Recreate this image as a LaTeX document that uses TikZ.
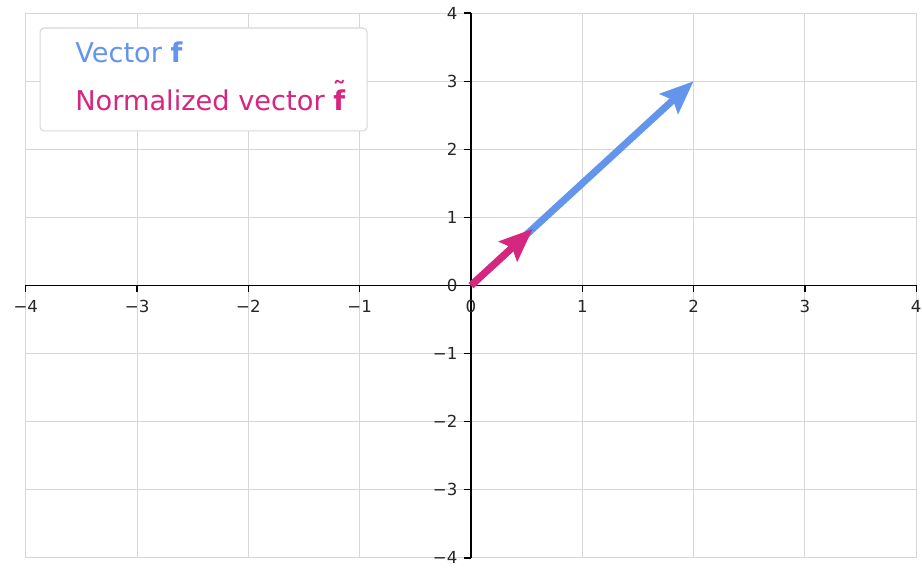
\documentclass[tikz,border=0pt]{standalone}
\usepackage{fontspec}
\setmainfont{DejaVu Sans}
\usetikzlibrary{arrows.meta}
\definecolor{vecblue}{RGB}{100,149,237}
\definecolor{vecpink}{RGB}{214,38,125}
\definecolor{gridgray}{RGB}{215,215,215}
\newcommand{\ftilde}{\ooalign{\textbf{f}\cr\hidewidth\raisebox{0.3em}{\textbf{\char"02DC}}\hidewidth\cr}}
\tikzset{
  gridline/.style={gridgray, line width=0.8pt},
  axisline/.style={black, line width=1.1pt},
  tickmark/.style={black, line width=1pt},
  ticklabel/.style={inner sep=0pt, font=\fontsize{12.5}{14}\selectfont, text=black!85},
  vecarrow/.style={line width=5.3pt,
    -{Stealth[length=25pt, width=20pt, inset=4pt]}},
  legendbox/.style={draw=gridgray, line width=0.8pt, rounded corners=3pt, fill=white},
  legendtext/.style={anchor=west, inner sep=0pt, font=\fontsize{20.5}{22}\selectfont}
}
\begin{document}
\begin{tikzpicture}[x=2.945cm, y=1.802cm]
    \useasboundingbox (-4.232,-4.148) rectangle (4.052,4.192);
    % Grid
    \foreach \i in {-4,...,4} {
      \draw[gridline] (\i,-4) -- (\i,4);
      \draw[gridline] (-4,\i) -- (4,\i);
    }
    % Axes through the origin
    \coordinate (O) at (0,0);
    \draw[axisline] (-4,0) -- (4,0);
    \draw[axisline] (0,-4) -- (0,4);
    % Ticks and labels
    \foreach \i/\t in {-4/−4,-3/−3,-2/−2,-1/−1,0/0,1/1,2/2,3/3,4/4} {
      \draw[tickmark] (\i,0) -- ++(0,-5pt);
      \node[ticklabel, anchor=north, yshift=-11pt] (xl\i) at (\i,0) {\t};
      \draw[tickmark] (0,\i) -- ++(-5pt,0);
      \node[ticklabel, anchor=east, xshift=-10pt] (yl\i) at (0,\i) {\t};
    }
    % Vectors
    \coordinate (F) at (2,3);
    \coordinate (Fn) at ({2/sqrt(13)},{3/sqrt(13)});
    \draw[vecarrow, vecblue] (O) -- (F);
    \draw[vecarrow, vecpink] (O) -- (Fn);
    % Legend
    \draw[legendbox] (-3.872,2.269) rectangle (-0.934,3.781);
    \node[legendtext, text=vecblue] (lf) at (-3.558,3.429) {Vector \textbf{f}};
    \node[legendtext, text=vecpink] (lfn) at (-3.558,2.724) {Normalized vector \ftilde};
\end{tikzpicture}
\end{document}
